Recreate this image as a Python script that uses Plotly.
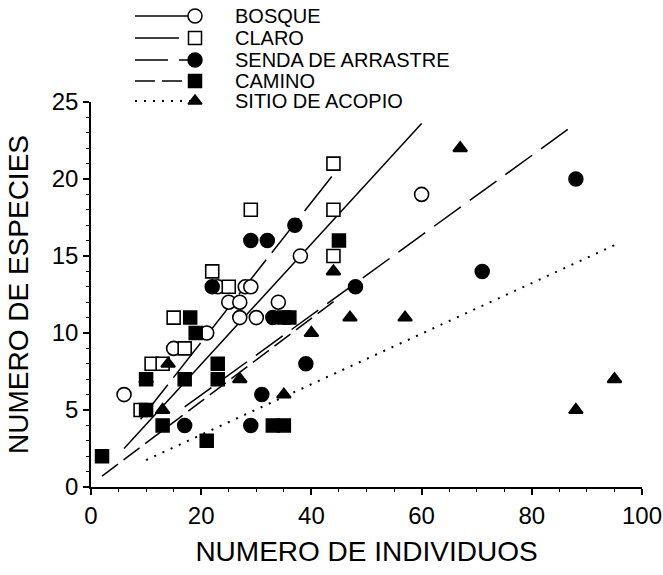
import plotly.graph_objects as go

# ---- data: number of species vs number of individuals per habitat ----
labels = ["BOSQUE", "CLARO", "SENDA DE ARRASTRE", "CAMINO", "SITIO DE ACOPIO"]

bosque_x = [6, 15, 21, 23, 25, 27, 27, 28, 29, 30, 34, 38, 60]
bosque_y = [6, 9, 10, 13, 12, 12, 11, 13, 13, 11, 12, 15, 19]

claro_x = [9, 11, 13, 15, 17, 22, 25, 29, 44, 44, 44]
claro_y = [5, 8, 8, 11, 9, 14, 13, 18, 21, 18, 15]

senda_x = [17, 22, 29, 29, 31, 32, 33, 37, 39, 48, 71, 88]
senda_y = [4, 13, 16, 4, 6, 16, 11, 17, 8, 13, 14, 20]

camino_x = [2, 10, 10, 13, 17, 18, 19, 21, 23, 23, 33, 35, 35, 36, 45]
camino_y = [2, 5, 7, 4, 7, 11, 10, 3, 8, 7, 4, 4, 11, 11, 16]

sitio_x = [10, 13, 14, 27, 35, 40, 44, 47, 57, 67, 88, 95]
sitio_y = [7, 5, 8, 7, 6, 10, 14, 11, 11, 22, 5, 7]

# fitted lines (end points)
bosque_fit_x, bosque_fit_y = [6, 60], [2.5, 23.6]
claro_fit_x, claro_fit_y = [9, 44], [4.4, 20.3]
senda_fit_x, senda_fit_y = [17, 88], [5.2, 23.6]
camino_fit_x, camino_fit_y = [2, 45], [0.7, 12.3]
sitio_fit_x, sitio_fit_y = [10, 95], [1.75, 15.7]

x_ticks = [0, 20, 40, 60, 80, 100]
y_ticks = [0, 5, 10, 15, 20, 25]

# ---- styling ----
W, H = 663, 575
PX0, PX1 = 91, 642      # plot area, left / right (px)
PY0, PY1 = 102, 487     # plot area, top / bottom (px)
FONT = "Liberation Sans, Arial, sans-serif"

points = [(bosque_x, bosque_y), (claro_x, claro_y), (senda_x, senda_y),
          (camino_x, camino_y), (sitio_x, sitio_y)]
fits = [(bosque_fit_x, bosque_fit_y), (claro_fit_x, claro_fit_y),
        (senda_fit_x, senda_fit_y), (camino_fit_x, camino_fit_y),
        (sitio_fit_x, sitio_fit_y)]

styles = [
    dict(symbol="circle", fill="white", size=14, dash="solid", lw=1.5),
    dict(symbol="square", fill="white", size=13, dash="44px,9px", lw=1.5),
    dict(symbol="circle", fill="black", size=14, dash="33px,11px", lw=1.5),
    dict(symbol="square", fill="black", size=13, dash="20px,7px", lw=1.5),
    dict(symbol="triangle-up", fill="black", size=12, dash="2px,7px", lw=2),
]

fig = go.Figure()

# regression lines first so markers sit on top
for (fx, fy), st in zip(fits, styles):
    fig.add_trace(go.Scatter(
        x=fx, y=fy, mode="lines", showlegend=False, hoverinfo="skip",
        line=dict(color="black", width=st["lw"], dash=st["dash"]),
    ))

for (px, py), st, name in zip(points, styles, labels):
    edge = 1.6 if st["fill"] == "white" else (2 if st["symbol"] == "triangle-up" else 1.5)
    fig.add_trace(go.Scatter(
        x=px, y=py, mode="markers", name=name, showlegend=False,
        marker=dict(symbol=st["symbol"], size=st["size"], color=st["fill"],
                    line=dict(color="black", width=edge)),
    ))

# ---- legend drawn on a pixel-space overlay axis ----
legend_rows = [16, 38, 60, 81, 101]
LEG_LINE_X0, LEG_MARK_X, LEG_TEXT_X = 135, 195, 233
for row, st, name in zip(legend_rows, styles, labels):
    fig.add_trace(go.Scatter(
        x=[LEG_LINE_X0, LEG_MARK_X], y=[row, row], xaxis="x2", yaxis="y2",
        mode="lines", showlegend=False, hoverinfo="skip",
        line=dict(color="black", width=st["lw"], dash=st["dash"]),
    ))
    fig.add_trace(go.Scatter(
        x=[LEG_MARK_X], y=[row], xaxis="x2", yaxis="y2",
        mode="markers", showlegend=False, hoverinfo="skip",
        marker=dict(symbol=st["symbol"], size=st["size"], color=st["fill"],
                    line=dict(color="black", width=1.5)),
    ))
    fig.add_annotation(
        x=LEG_TEXT_X / W, y=1 - row / H, xref="paper", yref="paper",
        text=name, showarrow=False, xanchor="left", yanchor="middle",
        font=dict(family=FONT, size=20, color="black"),
    )

axis_common = dict(
    showline=True, linecolor="black", linewidth=1.5, mirror=False,
    showgrid=False, zeroline=False, ticks="outside", ticklen=6,
    tickwidth=1.5, tickcolor="black", automargin=False,
    tickfont=dict(family=FONT, size=24, color="black"),
)

fig.update_layout(
    width=W, height=H,
    margin=dict(l=0, r=0, t=0, b=0, pad=0, autoexpand=False),
    paper_bgcolor="white", plot_bgcolor="rgba(0,0,0,0)",
    showlegend=False,
    xaxis=dict(
        domain=[PX0 / W, PX1 / W], range=[0, 100],
        tickvals=x_ticks,
        minor=dict(dtick=5, ticks="outside", ticklen=3, tickcolor="black", tickwidth=1),
        title=dict(text="NUMERO DE INDIVIDUOS", standoff=14,
                   font=dict(family=FONT, size=28, color="black")),
        **axis_common,
    ),
    yaxis=dict(
        domain=[1 - PY1 / H, 1 - PY0 / H], range=[0, 25],
        tickvals=y_ticks,
        minor=dict(dtick=1, ticks="outside", ticklen=3, tickcolor="black", tickwidth=1),
        title=dict(text="NUMERO DE ESPECIES", standoff=15,
                   font=dict(family=FONT, size=28, color="black")),
        **axis_common,
    ),
    xaxis2=dict(domain=[0, 1], range=[0, W], visible=False, anchor="y2"),
    yaxis2=dict(domain=[0, 1], range=[H, 0], visible=False, anchor="x2"),
)

fig.write_html("out.html")
